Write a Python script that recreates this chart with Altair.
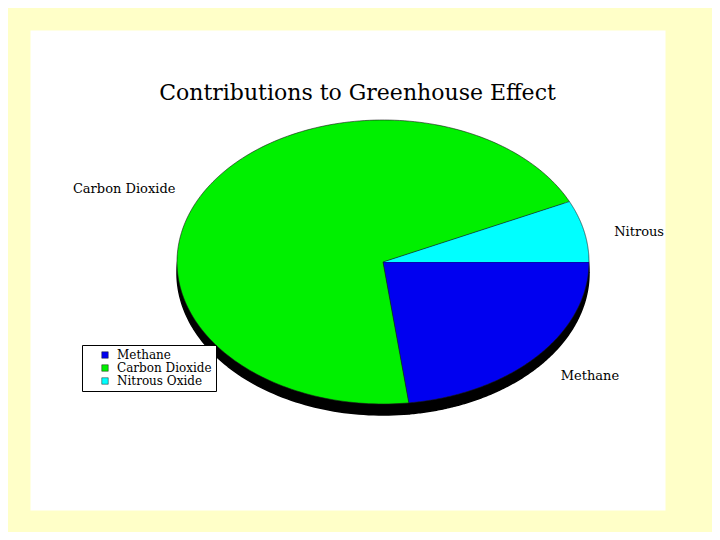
import altair as alt
import pandas as pd

# ---- data ----
categories = ["Methane", "Carbon Dioxide", "Nitrous Oxide"]
values = [23, 70, 7]
pie_labels = ["Methane", "Carbon Dioxide", "Nitrous"]
colors = ["#0000F0", "#00F000", "#00FFFF"]

df = pd.DataFrame({
    "category": categories,
    "value": values,
    "label": pie_labels,
    "idx": list(range(len(categories))),
})

# ellipse geometry (in scale units: radius = 1)
x_dom = [-1.7136, 1.3689]
y_dom = [-1.7465, 1.6338]
depth = 0.0775

xs = alt.Scale(domain=x_dom, nice=False, zero=False)
ys = alt.Scale(domain=y_dom, nice=False, zero=False)

base = (
    alt.Chart(df)
    .transform_joinaggregate(total="sum(value)")
    .transform_window(cum="sum(value)", sort=[alt.SortField("idx")], frame=[None, 0])
    .transform_calculate(a0="90 + 360*(datum.cum - datum.value)/datum.total")
    .transform_calculate(a1="90 + 360*datum.cum/datum.total")
)

wedge = (
    base.transform_calculate(pts="sequence(0, 182)")
    .transform_flatten(["pts"])
    .transform_calculate(ang="(datum.a0 + (datum.pts - 1)/180*(datum.a1 - datum.a0))*PI/180")
    .transform_calculate(r="datum.pts == 0 ? 0 : 1")
    .transform_calculate(px="datum.r*sin(datum.ang)")
    .transform_calculate(py="datum.r*cos(datum.ang)")
    .transform_calculate(sy=f"datum.r*cos(datum.ang) - {depth}")
)

shadow = wedge.mark_line(fill="black", stroke="black", strokeWidth=1.5, strokeJoin="round").encode(
    x=alt.X("px:Q", scale=xs, axis=None),
    y=alt.Y("sy:Q", scale=ys, axis=None),
    detail="category:N",
    order=alt.Order("pts:Q"),
)

pie = wedge.mark_line(filled=True, stroke="#1a1a1a", strokeWidth=0.6, strokeJoin="round").encode(
    x=alt.X("px:Q", scale=xs, axis=None),
    y=alt.Y("py:Q", scale=ys, axis=None),
    color=alt.Color(
        "category:N",
        scale=alt.Scale(domain=categories, range=colors),
        sort=categories,
        legend=alt.Legend(
            orient="none",
            legendX=52,
            legendY=315,
            title=None,
            fillColor="white",
            strokeColor="black",
            padding=4,
            symbolType="square",
            symbolSize=42,
            symbolStrokeColor="#222222",
            symbolStrokeWidth=0.5,
            symbolOffset=13,
            labelOffset=6,
            labelFont="DejaVu Serif",
            labelFontSize=12,
            labelColor="black",
            rowPadding=1,
        ),
    ),
    order=alt.Order("pts:Q"),
)

lab = (
    base.transform_calculate(mid="(datum.a0 + datum.a1)/2*PI/180")
    .transform_calculate(lx="1.15*sin(datum.mid)")
    .transform_calculate(ly="1.15*cos(datum.mid)")
)

lab_r = lab.transform_filter("datum.lx > 0").mark_text(
    align="left", baseline="middle", dy=6, font="DejaVu Serif", fontSize=13, color="black"
).encode(
    x=alt.X("lx:Q", scale=xs, axis=None),
    y=alt.Y("ly:Q", scale=ys, axis=None),
    text="label:N",
)

lab_l = lab.transform_filter("datum.lx <= 0").mark_text(
    align="right", baseline="middle", dy=6, font="DejaVu Serif", fontSize=13, color="black"
).encode(
    x=alt.X("lx:Q", scale=xs, axis=None),
    y=alt.Y("ly:Q", scale=ys, axis=None),
    text="label:N",
)

chart = (
    alt.layer(shadow, pie, lab_r, lab_l)
    .properties(
        width=635,
        height=480,
        background="#FFFFC8",
        padding={"left": 22, "top": 22, "right": 47, "bottom": 22},
        autosize=alt.AutoSizeParams(type="none"),
        title=alt.TitleParams(
            "Contributions to Greenhouse Effect",
            font="DejaVu Serif",
            fontSize=22,
            fontWeight="normal",
            color="black",
            anchor="middle",
            baseline="top",
            offset=0,
            dx=10,
            dy=75,
        ),
    )
    .configure_view(fill="white", strokeOpacity=0)
)

chart.save("out.html", embed_options={"renderer": "svg", "actions": False})
